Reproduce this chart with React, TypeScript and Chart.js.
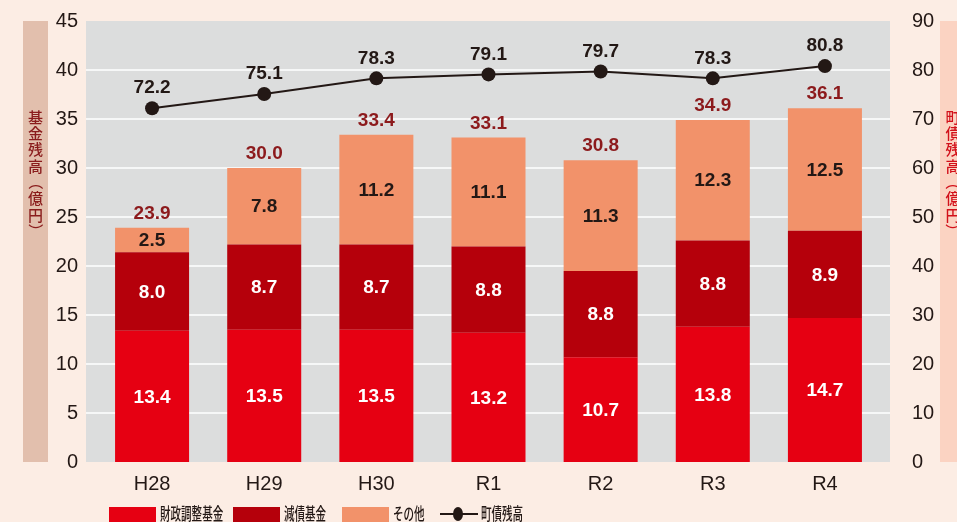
import React, { useEffect, useRef } from "react";
import { Chart, registerables } from "chart.js";

Chart.register(...registerables);

const categories = ["H28", "H29", "H30", "R1", "R2", "R3", "R4"];
const zaiseiChousei = [13.4, 13.5, 13.5, 13.2, 10.7, 13.8, 14.7];
const gensai = [8.0, 8.7, 8.7, 8.8, 8.8, 8.8, 8.9];
const sonota = [2.5, 7.8, 11.2, 11.1, 11.3, 12.3, 12.5];
const fundTotals = [23.9, 30.0, 33.4, 33.1, 30.8, 34.9, 36.1];
const chosaiZandaka = [72.2, 75.1, 78.3, 79.1, 79.7, 78.3, 80.8];

const seriesNames = ["財政調整基金", "減債基金", "その他", "町債残高"];
const leftTitle = "基金残高(億円)";
const rightTitle = "町債残高(億円)";

const COLORS = {
  page: "#fcede4",
  plot: "#dcdddd",
  red: "#e60012",
  darkRed: "#b5000b",
  salmon: "#f2926a",
  ink: "#231815",
  total: "#8c1a1c",
  leftBand: "#e2bfad",
  leftText: "#8a1c1c",
  rightBand: "#fbd3c2",
  rightText: "#d2101a",
};

const NUM_FONT = '"Liberation Sans", Arial, sans-serif';
const JP_FONT = '"Noto Sans CJK JP", sans-serif';
const PLOT_EXT_LEFT = 10;
const PLOT_EXT_RIGHT = 9;

const decorPlugin = {
  id: "decor",
  beforeDraw(chart: any) {
    const { ctx, chartArea } = chart;
    ctx.save();
    ctx.fillStyle = COLORS.page;
    ctx.fillRect(0, 0, chart.width, chart.height);
    const pl = chartArea.left - PLOT_EXT_LEFT;
    const pr = chartArea.right + PLOT_EXT_RIGHT;
    ctx.fillStyle = COLORS.plot;
    ctx.fillRect(pl, chartArea.top, pr - pl, chartArea.bottom - chartArea.top);
    const ys = chart.scales.y;
    ctx.strokeStyle = "#ffffff";
    ctx.lineWidth = 1.5;
    ys.ticks.forEach((t: any) => {
      if (t.value <= 0 || t.value >= ys.max) return;
      const y = ys.getPixelForValue(t.value);
      ctx.beginPath();
      ctx.moveTo(pl, y);
      ctx.lineTo(pr, y);
      ctx.stroke();
    });
    ctx.fillStyle = COLORS.leftBand;
    ctx.fillRect(23, chartArea.top, 25, chartArea.bottom - chartArea.top);
    ctx.fillStyle = COLORS.rightBand;
    ctx.fillRect(940, chartArea.top, 30, chartArea.bottom - chartArea.top);
    const drawVertical = (text: string, cx: number, y0: number, color: string) => {
      ctx.fillStyle = color;
      ctx.font = `500 15px ${JP_FONT}`;
      ctx.textAlign = "center";
      ctx.textBaseline = "middle";
      const chars = Array.from(text);
      chars.forEach((ch, i) => {
        const y = y0 + i * 16.3;
        if (ch === "(" || ch === ")") {
          ctx.save();
          ctx.translate(cx, y);
          ctx.rotate(Math.PI / 2);
          ctx.fillText(ch === "(" ? "（" : "）", 0, 0);
          ctx.restore();
        } else {
          ctx.fillText(ch, cx, y);
        }
      });
    };
    drawVertical(leftTitle, 35.5, 117, COLORS.leftText);
    drawVertical(rightTitle, 953, 117, COLORS.rightText);
    ctx.restore();
  },
  afterDatasetsDraw(chart: any) {
    const { ctx } = chart;
    ctx.save();
    ctx.textAlign = "center";
    ctx.textBaseline = "middle";
    ctx.font = `bold 19px ${NUM_FONT}`;
    const barSets = [
      { idx: 0, color: "#ffffff", data: zaiseiChousei },
      { idx: 1, color: "#ffffff", data: gensai },
      { idx: 2, color: COLORS.ink, data: sonota },
    ];
    barSets.forEach((s) => {
      const meta = chart.getDatasetMeta(s.idx);
      meta.data.forEach((el: any, i: number) => {
        ctx.fillStyle = s.color;
        ctx.fillText(s.data[i].toFixed(1), el.x, (el.y + el.base) / 2 + 1);
      });
    });
    const topMeta = chart.getDatasetMeta(2);
    topMeta.data.forEach((el: any, i: number) => {
      ctx.fillStyle = COLORS.total;
      ctx.fillText(fundTotals[i].toFixed(1), el.x, el.y - 14);
    });
    const lineMeta = chart.getDatasetMeta(3);
    lineMeta.data.forEach((el: any, i: number) => {
      ctx.fillStyle = COLORS.ink;
      ctx.fillText(chosaiZandaka[i].toFixed(1), el.x, el.y - 20);
    });
    ctx.restore();
  },
  afterDraw(chart: any) {
    const { ctx } = chart;
    ctx.save();
    const yc = 514;
    const items = [
      { x: 109, kind: "box", color: COLORS.red, text: seriesNames[0] },
      { x: 233, kind: "box", color: COLORS.darkRed, text: seriesNames[1] },
      { x: 342, kind: "box", color: COLORS.salmon, text: seriesNames[2] },
      { x: 440, kind: "line", color: COLORS.ink, text: seriesNames[3] },
    ];
    items.forEach((it) => {
      if (it.kind === "box") {
        ctx.fillStyle = it.color;
        ctx.fillRect(it.x, 507, 47, 16);
      } else {
        ctx.strokeStyle = it.color;
        ctx.lineWidth = 2;
        ctx.beginPath();
        ctx.moveTo(it.x, yc);
        ctx.lineTo(it.x + 38, yc);
        ctx.stroke();
        ctx.fillStyle = it.color;
        ctx.beginPath();
        ctx.ellipse(it.x + 18, yc, 5, 7, 0, 0, Math.PI * 2);
        ctx.fill();
      }
      const tx = it.kind === "box" ? it.x + 51 : it.x + 41;
      ctx.fillStyle = COLORS.ink;
      ctx.font = `500 17px ${JP_FONT}`;
      ctx.textAlign = "left";
      ctx.textBaseline = "middle";
      ctx.save();
      ctx.translate(tx, yc);
      ctx.scale(0.62, 1);
      ctx.fillText(it.text, 0, 0);
      ctx.restore();
    });
    ctx.restore();
  },
};

export default function App() {
  const ref = useRef<HTMLCanvasElement>(null);
  useEffect(() => {
    document.body.style.margin = "0";
    document.body.style.background = COLORS.page;
    const canvas = ref.current!;
    const chart = new Chart(canvas, {
      type: "bar",
      data: {
        labels: categories,
        datasets: [
          { type: "bar", label: seriesNames[0], data: zaiseiChousei, backgroundColor: COLORS.red, yAxisID: "y", order: 2, barPercentage: 0.66, categoryPercentage: 1 },
          { type: "bar", label: seriesNames[1], data: gensai, backgroundColor: COLORS.darkRed, yAxisID: "y", order: 2, barPercentage: 0.66, categoryPercentage: 1 },
          { type: "bar", label: seriesNames[2], data: sonota, backgroundColor: COLORS.salmon, yAxisID: "y", order: 2, barPercentage: 0.66, categoryPercentage: 1 },
          {
            type: "line",
            label: seriesNames[3],
            data: chosaiZandaka,
            yAxisID: "y1",
            order: 0,
            borderColor: COLORS.ink,
            backgroundColor: COLORS.ink,
            borderWidth: 2,
            pointRadius: 7,
            pointBackgroundColor: COLORS.ink,
            pointBorderWidth: 0,
            tension: 0,
          } as any,
        ],
      },
      options: {
        animation: false,
        responsive: false,
        maintainAspectRatio: false,
        layout: { padding: { left: 48, right: 6, top: 21, bottom: 0 } },
        plugins: { legend: { display: false }, tooltip: { enabled: false } },
        scales: {
          x: {
            stacked: true,
            grid: { display: false, drawTicks: false },
            border: { display: false },
            ticks: { color: COLORS.ink, font: { size: 20, family: NUM_FONT }, padding: 10 },
            afterFit: (s: any) => { s.height = 60; s.paddingLeft = 0; s.paddingRight = 0; },
          },
          y: {
            stacked: true,
            position: "left",
            min: 0,
            max: 45,
            ticks: { stepSize: 5, color: COLORS.ink, font: { size: 20, family: NUM_FONT }, padding: 18 },
            grid: { display: false, drawTicks: false },
            border: { display: false },
            afterFit: (s: any) => { s.width = 48; s.paddingTop = 0; s.paddingBottom = 0; },
          },
          y1: {
            position: "right",
            min: 0,
            max: 90,
            ticks: { stepSize: 10, color: COLORS.ink, font: { size: 20, family: NUM_FONT }, padding: 31 },
            grid: { display: false, drawTicks: false },
            border: { display: false },
            afterFit: (s: any) => { s.width = 70; s.paddingTop = 0; s.paddingBottom = 0; },
          },
        },
      },
      plugins: [decorPlugin],
    });
    return () => chart.destroy();
  }, []);
  return <canvas ref={ref} width={957} height={522} style={{ display: "block", width: 957, height: 522 }} />;
}
